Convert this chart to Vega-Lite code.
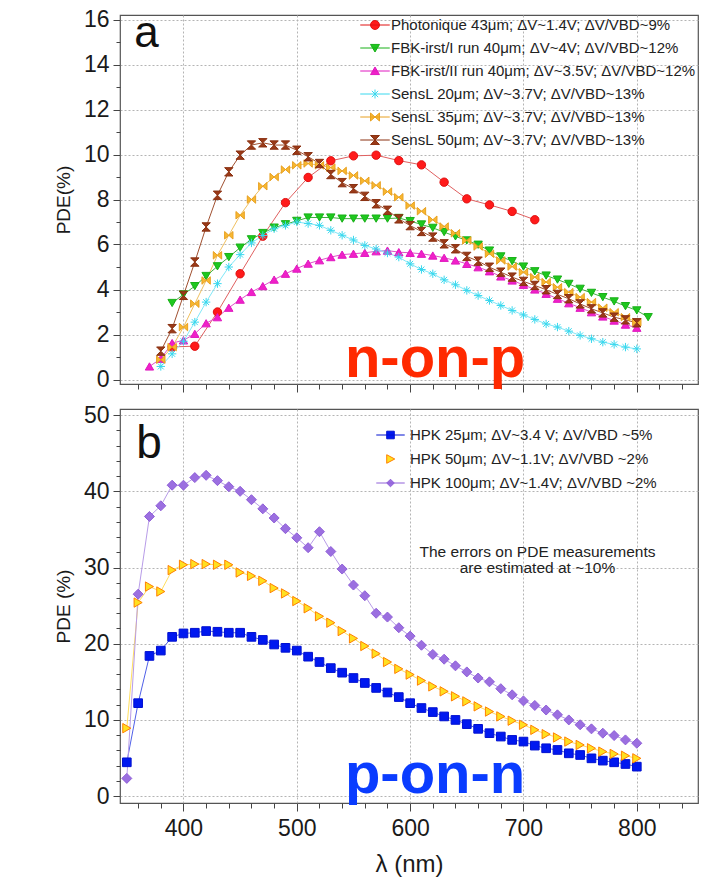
{
"$schema": "https://vega.github.io/schema/vega-lite/v6.json",
"background": "white",
"padding": {"left": 53, "top": 7, "right": 0, "bottom": 0},
"spacing": 9,
"config": {
  "view": {"stroke": "#555", "strokeWidth": 1.2},
  "font": "Liberation Sans",
  "axis": {"labelFont": "Liberation Sans", "titleFont": "Liberation Sans", "labelFontSize": 23, "labelColor": "#1a1a1a", "titleFontWeight": "normal", "titleColor": "#1a1a1a", "domain": false, "tickColor": "#444", "gridColor": "#b4b4b4", "gridDash": [2, 2], "labelOverlap": false, "labelFlush": false},
  "legend": {"labelFont": "Liberation Sans", "labelFontSize": 15, "labelColor": "#222", "labelLimit": 500}
},
"datasets": {
"top": [
{"series":"P","nm":390,"pde":1.45},{"series":"P","nm":410,"pde":1.48},{"series":"P","nm":430,"pde":3.0},{"series":"P","nm":450,"pde":4.7},{"series":"P","nm":470,"pde":6.37},{"series":"P","nm":490,"pde":7.86},{"series":"P","nm":510,"pde":8.98},{"series":"P","nm":530,"pde":9.72},{"series":"P","nm":550,"pde":9.94},{"series":"P","nm":570,"pde":9.97},{"series":"P","nm":590,"pde":9.73},{"series":"P","nm":610,"pde":9.54},{"series":"P","nm":630,"pde":8.77},{"series":"P","nm":650,"pde":8.03},{"series":"P","nm":670,"pde":7.76},{"series":"P","nm":690,"pde":7.47},{"series":"P","nm":710,"pde":7.1},
{"series":"G","nm":390,"pde":3.4},{"series":"G","nm":400,"pde":3.78},{"series":"G","nm":410,"pde":4.15},{"series":"G","nm":420,"pde":4.6},{"series":"G","nm":430,"pde":5.03},{"series":"G","nm":440,"pde":5.44},{"series":"G","nm":450,"pde":5.86},{"series":"G","nm":460,"pde":6.23},{"series":"G","nm":470,"pde":6.51},{"series":"G","nm":480,"pde":6.75},{"series":"G","nm":490,"pde":6.9},{"series":"G","nm":500,"pde":7.05},{"series":"G","nm":510,"pde":7.2},{"series":"G","nm":520,"pde":7.2},{"series":"G","nm":530,"pde":7.2},{"series":"G","nm":540,"pde":7.15},{"series":"G","nm":550,"pde":7.15},{"series":"G","nm":560,"pde":7.15},{"series":"G","nm":570,"pde":7.15},{"series":"G","nm":580,"pde":7.15},{"series":"G","nm":590,"pde":7.18},{"series":"G","nm":600,"pde":7.04},{"series":"G","nm":610,"pde":6.89},{"series":"G","nm":620,"pde":6.74},{"series":"G","nm":630,"pde":6.55},{"series":"G","nm":640,"pde":6.36},{"series":"G","nm":650,"pde":6.18},{"series":"G","nm":660,"pde":5.99},{"series":"G","nm":670,"pde":5.73},{"series":"G","nm":680,"pde":5.47},{"series":"G","nm":690,"pde":5.26},{"series":"G","nm":700,"pde":5.02},{"series":"G","nm":710,"pde":4.81},{"series":"G","nm":720,"pde":4.62},{"series":"G","nm":730,"pde":4.44},{"series":"G","nm":740,"pde":4.25},{"series":"G","nm":750,"pde":4.03},{"series":"G","nm":760,"pde":3.85},{"series":"G","nm":770,"pde":3.66},{"series":"G","nm":780,"pde":3.47},{"series":"G","nm":790,"pde":3.26},{"series":"G","nm":800,"pde":3.07},{"series":"G","nm":810,"pde":2.77},
{"series":"M","nm":370,"pde":0.58},{"series":"M","nm":380,"pde":0.92},{"series":"M","nm":390,"pde":1.62},{"series":"M","nm":400,"pde":1.74},{"series":"M","nm":410,"pde":2.03},{"series":"M","nm":420,"pde":2.5},{"series":"M","nm":430,"pde":2.77},{"series":"M","nm":440,"pde":3.19},{"series":"M","nm":450,"pde":3.55},{"series":"M","nm":460,"pde":3.89},{"series":"M","nm":470,"pde":4.15},{"series":"M","nm":480,"pde":4.44},{"series":"M","nm":490,"pde":4.7},{"series":"M","nm":500,"pde":4.93},{"series":"M","nm":510,"pde":5.15},{"series":"M","nm":520,"pde":5.3},{"series":"M","nm":530,"pde":5.44},{"series":"M","nm":540,"pde":5.55},{"series":"M","nm":550,"pde":5.59},{"series":"M","nm":560,"pde":5.63},{"series":"M","nm":570,"pde":5.7},{"series":"M","nm":580,"pde":5.73},{"series":"M","nm":590,"pde":5.66},{"series":"M","nm":600,"pde":5.63},{"series":"M","nm":610,"pde":5.59},{"series":"M","nm":620,"pde":5.51},{"series":"M","nm":630,"pde":5.41},{"series":"M","nm":640,"pde":5.29},{"series":"M","nm":650,"pde":5.14},{"series":"M","nm":660,"pde":4.99},{"series":"M","nm":670,"pde":4.81},{"series":"M","nm":680,"pde":4.58},{"series":"M","nm":690,"pde":4.4},{"series":"M","nm":700,"pde":4.21},{"series":"M","nm":710,"pde":4.0},{"series":"M","nm":720,"pde":3.81},{"series":"M","nm":730,"pde":3.59},{"series":"M","nm":740,"pde":3.39},{"series":"M","nm":750,"pde":3.19},{"series":"M","nm":760,"pde":2.99},{"series":"M","nm":770,"pde":2.8},{"series":"M","nm":780,"pde":2.62},{"series":"M","nm":790,"pde":2.44},{"series":"M","nm":800,"pde":2.3},
{"series":"C","nm":380,"pde":0.58},{"series":"C","nm":390,"pde":1.14},{"series":"C","nm":400,"pde":1.7},{"series":"C","nm":410,"pde":2.55},{"series":"C","nm":420,"pde":3.44},{"series":"C","nm":430,"pde":4.26},{"series":"C","nm":440,"pde":5.0},{"series":"C","nm":450,"pde":5.55},{"series":"C","nm":460,"pde":6.07},{"series":"C","nm":470,"pde":6.4},{"series":"C","nm":480,"pde":6.7},{"series":"C","nm":490,"pde":6.85},{"series":"C","nm":500,"pde":7.0},{"series":"C","nm":510,"pde":6.93},{"series":"C","nm":520,"pde":6.85},{"series":"C","nm":530,"pde":6.63},{"series":"C","nm":540,"pde":6.41},{"series":"C","nm":550,"pde":6.2},{"series":"C","nm":560,"pde":5.96},{"series":"C","nm":570,"pde":5.8},{"series":"C","nm":580,"pde":5.62},{"series":"C","nm":590,"pde":5.44},{"series":"C","nm":600,"pde":5.14},{"series":"C","nm":610,"pde":4.89},{"series":"C","nm":620,"pde":4.7},{"series":"C","nm":630,"pde":4.43},{"series":"C","nm":640,"pde":4.21},{"series":"C","nm":650,"pde":3.96},{"series":"C","nm":660,"pde":3.73},{"series":"C","nm":670,"pde":3.51},{"series":"C","nm":680,"pde":3.29},{"series":"C","nm":690,"pde":3.07},{"series":"C","nm":700,"pde":2.87},{"series":"C","nm":710,"pde":2.67},{"series":"C","nm":720,"pde":2.47},{"series":"C","nm":730,"pde":2.33},{"series":"C","nm":740,"pde":2.15},{"series":"C","nm":750,"pde":1.96},{"series":"C","nm":760,"pde":1.81},{"series":"C","nm":770,"pde":1.66},{"series":"C","nm":780,"pde":1.56},{"series":"C","nm":790,"pde":1.44},{"series":"C","nm":800,"pde":1.36},
{"series":"O","nm":380,"pde":0.88},{"series":"O","nm":390,"pde":1.44},{"series":"O","nm":400,"pde":2.33},{"series":"O","nm":410,"pde":3.37},{"series":"O","nm":420,"pde":4.4},{"series":"O","nm":430,"pde":5.52},{"series":"O","nm":440,"pde":6.41},{"series":"O","nm":450,"pde":7.3},{"series":"O","nm":460,"pde":8.0},{"series":"O","nm":470,"pde":8.59},{"series":"O","nm":480,"pde":9.0},{"series":"O","nm":490,"pde":9.33},{"series":"O","nm":500,"pde":9.52},{"series":"O","nm":510,"pde":9.6},{"series":"O","nm":520,"pde":9.52},{"series":"O","nm":530,"pde":9.42},{"series":"O","nm":540,"pde":9.27},{"series":"O","nm":550,"pde":9.07},{"series":"O","nm":560,"pde":8.83},{"series":"O","nm":570,"pde":8.63},{"series":"O","nm":580,"pde":8.35},{"series":"O","nm":590,"pde":8.1},{"series":"O","nm":600,"pde":7.73},{"series":"O","nm":610,"pde":7.48},{"series":"O","nm":620,"pde":7.1},{"series":"O","nm":630,"pde":6.8},{"series":"O","nm":640,"pde":6.5},{"series":"O","nm":650,"pde":6.18},{"series":"O","nm":660,"pde":5.91},{"series":"O","nm":670,"pde":5.59},{"series":"O","nm":680,"pde":5.29},{"series":"O","nm":690,"pde":5.02},{"series":"O","nm":700,"pde":4.77},{"series":"O","nm":710,"pde":4.55},{"series":"O","nm":720,"pde":4.33},{"series":"O","nm":730,"pde":4.1},{"series":"O","nm":740,"pde":3.88},{"series":"O","nm":750,"pde":3.66},{"series":"O","nm":760,"pde":3.44},{"series":"O","nm":770,"pde":3.19},{"series":"O","nm":780,"pde":2.99},{"series":"O","nm":790,"pde":2.77},{"series":"O","nm":800,"pde":2.55},
{"series":"B","nm":380,"pde":1.26},{"series":"B","nm":390,"pde":2.26},{"series":"B","nm":400,"pde":3.74},{"series":"B","nm":410,"pde":5.22},{"series":"B","nm":420,"pde":6.78},{"series":"B","nm":430,"pde":8.19},{"series":"B","nm":440,"pde":9.23},{"series":"B","nm":450,"pde":9.97},{"series":"B","nm":460,"pde":10.42},{"series":"B","nm":470,"pde":10.52},{"series":"B","nm":480,"pde":10.42},{"series":"B","nm":490,"pde":10.42},{"series":"B","nm":500,"pde":10.19},{"series":"B","nm":510,"pde":9.9},{"series":"B","nm":520,"pde":9.6},{"series":"B","nm":530,"pde":9.11},{"series":"B","nm":540,"pde":8.75},{"series":"B","nm":550,"pde":8.48},{"series":"B","nm":560,"pde":8.14},{"series":"B","nm":570,"pde":7.81},{"series":"B","nm":580,"pde":7.52},{"series":"B","nm":590,"pde":7.14},{"series":"B","nm":600,"pde":6.84},{"series":"B","nm":610,"pde":6.58},{"series":"B","nm":620,"pde":6.33},{"series":"B","nm":630,"pde":6.03},{"series":"B","nm":640,"pde":5.81},{"series":"B","nm":650,"pde":5.47},{"series":"B","nm":660,"pde":5.26},{"series":"B","nm":670,"pde":4.99},{"series":"B","nm":680,"pde":4.77},{"series":"B","nm":690,"pde":4.55},{"series":"B","nm":700,"pde":4.36},{"series":"B","nm":710,"pde":4.18},{"series":"B","nm":720,"pde":3.99},{"series":"B","nm":730,"pde":3.78},{"series":"B","nm":740,"pde":3.59},{"series":"B","nm":750,"pde":3.36},{"series":"B","nm":760,"pde":3.14},{"series":"B","nm":770,"pde":2.96},{"series":"B","nm":780,"pde":2.77},{"series":"B","nm":790,"pde":2.65},{"series":"B","nm":800,"pde":2.52}
],
"bottom": [
{"series":"H25","nm":350,"pde":4.44},{"series":"H25","nm":360,"pde":12.2},{"series":"H25","nm":370,"pde":18.4},{"series":"H25","nm":380,"pde":19.1},{"series":"H25","nm":390,"pde":20.9},{"series":"H25","nm":400,"pde":21.35},{"series":"H25","nm":410,"pde":21.44},{"series":"H25","nm":420,"pde":21.66},{"series":"H25","nm":430,"pde":21.57},{"series":"H25","nm":440,"pde":21.44},{"series":"H25","nm":450,"pde":21.44},{"series":"H25","nm":460,"pde":20.9},{"series":"H25","nm":470,"pde":20.5},{"series":"H25","nm":480,"pde":19.9},{"series":"H25","nm":490,"pde":19.46},{"series":"H25","nm":500,"pde":19.1},{"series":"H25","nm":510,"pde":18.3},{"series":"H25","nm":520,"pde":17.6},{"series":"H25","nm":530,"pde":16.8},{"series":"H25","nm":540,"pde":16.2},{"series":"H25","nm":550,"pde":15.5},{"series":"H25","nm":560,"pde":14.85},{"series":"H25","nm":570,"pde":14.2},{"series":"H25","nm":580,"pde":13.6},{"series":"H25","nm":590,"pde":13.0},{"series":"H25","nm":600,"pde":12.2},{"series":"H25","nm":610,"pde":11.56},{"series":"H25","nm":620,"pde":11.03},{"series":"H25","nm":630,"pde":10.46},{"series":"H25","nm":640,"pde":10.0},{"series":"H25","nm":650,"pde":9.45},{"series":"H25","nm":660,"pde":8.83},{"series":"H25","nm":670,"pde":8.26},{"series":"H25","nm":680,"pde":7.82},{"series":"H25","nm":690,"pde":7.38},{"series":"H25","nm":700,"pde":7.16},{"series":"H25","nm":710,"pde":6.63},{"series":"H25","nm":720,"pde":6.28},{"series":"H25","nm":730,"pde":6.06},{"series":"H25","nm":740,"pde":5.62},{"series":"H25","nm":750,"pde":5.4},{"series":"H25","nm":760,"pde":4.96},{"series":"H25","nm":770,"pde":4.66},{"series":"H25","nm":780,"pde":4.44},{"series":"H25","nm":790,"pde":4.22},{"series":"H25","nm":800,"pde":3.87},
{"series":"H50","nm":350,"pde":8.92},{"series":"H50","nm":360,"pde":25.4},{"series":"H50","nm":370,"pde":27.5},{"series":"H50","nm":380,"pde":26.85},{"series":"H50","nm":390,"pde":29.66},{"series":"H50","nm":400,"pde":30.36},{"series":"H50","nm":410,"pde":30.45},{"series":"H50","nm":420,"pde":30.45},{"series":"H50","nm":430,"pde":30.36},{"series":"H50","nm":440,"pde":30.36},{"series":"H50","nm":450,"pde":29.35},{"series":"H50","nm":460,"pde":28.9},{"series":"H50","nm":470,"pde":28.25},{"series":"H50","nm":480,"pde":27.3},{"series":"H50","nm":490,"pde":26.6},{"series":"H50","nm":500,"pde":25.6},{"series":"H50","nm":510,"pde":24.65},{"series":"H50","nm":520,"pde":23.6},{"series":"H50","nm":530,"pde":22.76},{"series":"H50","nm":540,"pde":21.66},{"series":"H50","nm":550,"pde":20.7},{"series":"H50","nm":560,"pde":19.7},{"series":"H50","nm":570,"pde":18.7},{"series":"H50","nm":580,"pde":17.6},{"series":"H50","nm":590,"pde":16.7},{"series":"H50","nm":600,"pde":15.95},{"series":"H50","nm":610,"pde":15.16},{"series":"H50","nm":620,"pde":14.4},{"series":"H50","nm":630,"pde":13.75},{"series":"H50","nm":640,"pde":13.1},{"series":"H50","nm":650,"pde":12.43},{"series":"H50","nm":660,"pde":11.78},{"series":"H50","nm":670,"pde":11.1},{"series":"H50","nm":680,"pde":10.46},{"series":"H50","nm":690,"pde":9.9},{"series":"H50","nm":700,"pde":9.36},{"series":"H50","nm":710,"pde":8.7},{"series":"H50","nm":720,"pde":8.13},{"series":"H50","nm":730,"pde":7.7},{"series":"H50","nm":740,"pde":7.16},{"series":"H50","nm":750,"pde":6.72},{"series":"H50","nm":760,"pde":6.28},{"series":"H50","nm":770,"pde":5.84},{"series":"H50","nm":780,"pde":5.54},{"series":"H50","nm":790,"pde":5.3},{"series":"H50","nm":800,"pde":4.96},
{"series":"H100","nm":350,"pde":2.33},{"series":"H100","nm":360,"pde":26.5},{"series":"H100","nm":370,"pde":36.7},{"series":"H100","nm":380,"pde":38.1},{"series":"H100","nm":390,"pde":40.8},{"series":"H100","nm":400,"pde":40.8},{"series":"H100","nm":410,"pde":41.8},{"series":"H100","nm":420,"pde":42.1},{"series":"H100","nm":430,"pde":41.4},{"series":"H100","nm":440,"pde":40.6},{"series":"H100","nm":450,"pde":40.0},{"series":"H100","nm":460,"pde":38.9},{"series":"H100","nm":470,"pde":37.7},{"series":"H100","nm":480,"pde":36.5},{"series":"H100","nm":490,"pde":35.1},{"series":"H100","nm":500,"pde":33.9},{"series":"H100","nm":510,"pde":32.6},{"series":"H100","nm":520,"pde":34.7},{"series":"H100","nm":530,"pde":32.1},{"series":"H100","nm":540,"pde":29.8},{"series":"H100","nm":550,"pde":27.7},{"series":"H100","nm":560,"pde":26.3},{"series":"H100","nm":570,"pde":24.0},{"series":"H100","nm":580,"pde":23.5},{"series":"H100","nm":590,"pde":22.1},{"series":"H100","nm":600,"pde":21.0},{"series":"H100","nm":610,"pde":19.8},{"series":"H100","nm":620,"pde":18.6},{"series":"H100","nm":630,"pde":17.97},{"series":"H100","nm":640,"pde":17.1},{"series":"H100","nm":650,"pde":16.3},{"series":"H100","nm":660,"pde":15.5},{"series":"H100","nm":670,"pde":15.0},{"series":"H100","nm":680,"pde":14.1},{"series":"H100","nm":690,"pde":13.3},{"series":"H100","nm":700,"pde":12.5},{"series":"H100","nm":710,"pde":11.9},{"series":"H100","nm":720,"pde":11.3},{"series":"H100","nm":730,"pde":10.67},{"series":"H100","nm":740,"pde":10.0},{"series":"H100","nm":750,"pde":9.36},{"series":"H100","nm":760,"pde":8.83},{"series":"H100","nm":770,"pde":8.26},{"series":"H100","nm":780,"pde":7.95},{"series":"H100","nm":790,"pde":7.38},{"series":"H100","nm":800,"pde":6.94}
]
},
"vconcat": [
{
  "width": 578, "height": 369,
  "data": {"name": "top"},
  "resolve": {"scale": {"color": "independent", "fill": "independent", "stroke": "independent", "shape": "independent"}, "axis": {"x": "independent", "y": "independent"}},
  "layer": [
    {
      "mark": {"type": "line", "strokeWidth": 1},
      "encoding": {
        "x": {"field": "nm", "type": "quantitative", "scale": {"domain": [344, 854], "nice": false, "zero": false},
          "axis": {"orient": "bottom", "title": null, "labels": false, "values": [400, 500, 600, 700, 800], "tickSize": 8, "grid": true}},
        "y": {"field": "pde", "type": "quantitative", "scale": {"domain": [-0.2, 16.2], "nice": false, "zero": false},
          "axis": {"orient": "left", "title": "PDE(%)", "titleFontSize": 19, "titlePadding": 10, "labelPadding": 4, "tickSize": 7,
            "values": [0,2,4,6,8,10,12,14,16], "grid": true}},
        "color": {"field": "series", "type": "nominal", "legend": null,
          "scale": {"domain": ["P","G","M","C","O","B"], "range": ["#e06060","#40b040","#e050c8","#80e8f8","#f0c060","#a05030"]}},
        "order": {"field": "nm"}
      }
    },
    {
      "mark": {"type": "point", "filled": true, "size": 70, "strokeWidth": 1, "opacity": 1},
      "encoding": {
        "x": {"field": "nm", "type": "quantitative",
          "axis": {"orient": "bottom", "title": null, "labels": false, "grid": false, "tickSize": 5, "values": [360,380,420,440,460,480,520,540,560,580,620,640,660,680,720,740,760,780,820,840]}},
        "y": {"field": "pde", "type": "quantitative",
          "axis": {"orient": "left", "title": null, "labels": false, "grid": false, "tickSize": 4, "values": [1,3,5,7,9,11,13,15]}},
        "shape": {"field": "series", "type": "nominal", "legend": null,
          "scale": {"domain": ["P","G","M","C","O","B"], "range": ["circle","triangle-down","triangle-up","M-1,0H1M0,-1V1M-0.7,-0.7L0.7,0.7M-0.7,0.7L0.7,-0.7","M-1,-0.9L0,0L-1,0.9ZM1,-0.9L0,0L1,0.9Z","M-1,-1H1L0,0ZM-1,1H1L0,0Z"]}},
        "fill": {"field": "series", "type": "nominal", "legend": null,
          "scale": {"domain": ["P","G","M","C","O","B"], "range": ["#ff1a1a","#1ec81e","#f020c8","#40e0f0","#f8b830","#9a3a18"]}},
        "stroke": {"field": "series", "type": "nominal", "legend": null,
          "scale": {"domain": ["P","G","M","C","O","B"], "range": ["#e01010","#18b018","#e018c0","#38d8ee","#e8a020","#8a3010"]}}
      }
    },
    {
      "transform": [{"filter": "datum.nm < 0"}],
      "mark": {"type": "point", "filled": true, "size": 80, "strokeWidth": 1, "opacity": 1},
      "encoding": {
        "x": {"field": "nm", "type": "quantitative", "axis": null},
        "y": {"field": "pde", "type": "quantitative", "axis": null},
        "shape": {"field": "series", "type": "nominal",
          "scale": {"domain": ["P","G","M","C","O","B"], "range": ["M-3.3,0H3.3M1,0A1,1 0 1,1 -1,0A1,1 0 1,1 1,0Z","M-3.3,0H3.3M-1,-0.8H1L0,0.9Z","M-3.3,0H3.3M-1,0.8H1L0,-0.9Z","M-3.3,0H3.3M0,-1V1M-0.7,-0.7L0.7,0.7M-0.7,0.7L0.7,-0.7","M-3.3,0H3.3M-1,-0.9L0,0L-1,0.9ZM1,-0.9L0,0L1,0.9Z","M-3.3,0H3.3M-1,-1H1L0,0ZM-1,1H1L0,0Z"]},
          "legend": {"title": null, "orient": "none", "legendX": 247.5, "legendY": 2.5, "padding": 0, "labelOffset": 8.5, "rowPadding": 7, "symbolSize": 80, "symbolStrokeWidth": 1,
            "labelExpr": "{'P':'Photonique 43μm; ΔV~1.4V; ΔV/VBD~9%','G':'FBK-irst/I run 40μm; ΔV~4V; ΔV/VBD~12%','M':'FBK-irst/II run 40μm; ΔV~3.5V; ΔV/VBD~12%','C':'SensL 20μm; ΔV~3.7V; ΔV/VBD~13%','O':'SensL 35μm; ΔV~3.7V; ΔV/VBD~13%','B':'SensL 50μm; ΔV~3.7V; ΔV/VBD~13%'}[datum.label]"}},
        "fill": {"field": "series", "type": "nominal",
          "scale": {"domain": ["P","G","M","C","O","B"], "range": ["#ff1a1a","#1ec81e","#f020c8","#40e0f0","#f8b830","#9a3a18"]}},
        "stroke": {"field": "series", "type": "nominal",
          "scale": {"domain": ["P","G","M","C","O","B"], "range": ["#e01010","#18b018","#e018c0","#38d8ee","#e8a020","#8a3010"]}}
      }
    },
    {
      "data": {"values": [{"label": "a"}]},
      "mark": {"type": "text", "fontSize": 44, "font": "Liberation Sans", "align": "center", "baseline": "alphabetic", "color": "#111"},
      "encoding": {"text": {"field": "label"}, "x": {"datum": 367.4, "type": "quantitative", "axis": null}, "y": {"datum": 14.8, "type": "quantitative", "axis": null}}
    },
    {
      "data": {"values": [{"label": "n-on-p"}]},
      "mark": {"type": "text", "fontSize": 58, "font": "Liberation Sans", "fontWeight": "bold", "align": "center", "baseline": "alphabetic", "color": "#ff2a00"},
      "encoding": {"text": {"field": "label"}, "x": {"datum": 622, "type": "quantitative", "axis": null}, "y": {"datum": 0.12, "type": "quantitative", "axis": null}}
    }
  ]
},
{
  "width": 578, "height": 394,
  "data": {"name": "bottom"},
  "resolve": {"scale": {"color": "independent", "fill": "independent", "stroke": "independent", "shape": "independent", "size": "independent"}, "axis": {"x": "independent", "y": "independent"}},
  "layer": [
    {
      "mark": {"type": "line", "strokeWidth": 1},
      "encoding": {
        "x": {"field": "nm", "type": "quantitative", "scale": {"domain": [344, 854], "nice": false, "zero": false},
          "axis": {"orient": "bottom", "title": "λ (nm)", "titleFontSize": 24, "titlePadding": 12, "labelPadding": 6, "tickSize": 8,
            "values": [400, 500, 600, 700, 800], "grid": true}},
        "y": {"field": "pde", "type": "quantitative", "scale": {"domain": [-0.9, 50.8], "nice": false, "zero": false},
          "axis": {"orient": "left", "title": "PDE (%)", "titleFontSize": 19, "titlePadding": 10, "labelPadding": 4, "tickSize": 7,
            "values": [0, 10, 20, 30, 40, 50], "grid": true}},
        "color": {"field": "series", "type": "nominal", "legend": null,
          "scale": {"domain": ["H25","H50","H100"], "range": ["#5060e8","#ffe060","#b89ce8"]}},
        "order": {"field": "nm"}
      }
    },
    {
      "mark": {"type": "point", "filled": true, "strokeWidth": 1, "opacity": 1},
      "encoding": {
        "x": {"field": "nm", "type": "quantitative",
          "axis": {"orient": "bottom", "title": null, "labels": false, "grid": false, "tickSize": 5, "values": [360,380,420,440,460,480,520,540,560,580,620,640,660,680,720,740,760,780,820,840]}},
        "y": {"field": "pde", "type": "quantitative",
          "axis": {"orient": "left", "title": null, "labels": false, "grid": false, "tickSize": 4, "values": [2,4,6,8,12,14,16,18,22,24,26,28,32,34,36,38,42,44,46,48]}},
        "shape": {"field": "series", "type": "nominal", "legend": null,
          "scale": {"domain": ["H25","H50","H100"], "range": ["square","triangle-right","diamond"]}},
        "size": {"field": "series", "type": "nominal", "legend": null,
          "scale": {"domain": ["H25","H50","H100"], "range": [75, 100, 95]}},
        "fill": {"field": "series", "type": "nominal", "legend": null,
          "scale": {"domain": ["H25","H50","H100"], "range": ["#0018f0","#ffe020","#9b6fe0"]}},
        "stroke": {"field": "series", "type": "nominal", "legend": null,
          "scale": {"domain": ["H25","H50","H100"], "range": ["#0010d0","#ff8000","#9060d8"]}}
      }
    },
    {
      "transform": [{"filter": "datum.nm < 0"}],
      "mark": {"type": "point", "filled": true, "size": 90, "strokeWidth": 1, "opacity": 1},
      "encoding": {
        "x": {"field": "nm", "type": "quantitative", "axis": null},
        "y": {"field": "pde", "type": "quantitative", "axis": null},
        "shape": {"field": "series", "type": "nominal",
          "scale": {"domain": ["H25","H50","H100"], "range": ["M-3,0H3M-0.8,-0.8H0.8V0.8H-0.8Z","M-0.8,-0.9L0.9,0L-0.8,0.9Z","M-3,0H3M0,-0.8L0.8,0L0,0.8L-0.8,0Z"]},
          "legend": {"title": null, "orient": "none", "legendX": 263, "legendY": 18.5, "padding": 0, "labelOffset": 12, "rowPadding": 8, "symbolSize": 90, "symbolStrokeWidth": 1,
            "labelExpr": "{'H25':'HPK 25μm; ΔV~3.4 V; ΔV/VBD ~5%','H50':'HPK 50μm; ΔV~1.1V; ΔV/VBD ~2%','H100':'HPK 100μm; ΔV~1.4V; ΔV/VBD ~2%'}[datum.label]"}},
        "fill": {"field": "series", "type": "nominal",
          "scale": {"domain": ["H25","H50","H100"], "range": ["#0018f0","#ffe020","#9b6fe0"]}},
        "stroke": {"field": "series", "type": "nominal",
          "scale": {"domain": ["H25","H50","H100"], "range": ["#0010d0","#ff8000","#9060d8"]}}
      }
    },
    {
      "data": {"values": [{"label": "b"}]},
      "mark": {"type": "text", "fontSize": 46, "font": "Liberation Sans", "align": "center", "baseline": "alphabetic", "color": "#111"},
      "encoding": {"text": {"field": "label"}, "x": {"datum": 369.6, "type": "quantitative", "axis": null}, "y": {"datum": 44.4, "type": "quantitative", "axis": null}}
    },
    {
      "data": {"values": [{"label": "p-on-n"}]},
      "mark": {"type": "text", "fontSize": 58, "font": "Liberation Sans", "fontWeight": "bold", "align": "center", "baseline": "alphabetic", "color": "#0a3cff"},
      "encoding": {"text": {"field": "label"}, "x": {"datum": 622, "type": "quantitative", "axis": null}, "y": {"datum": 0.45, "type": "quantitative", "axis": null}}
    },
    {
      "data": {"values": [{"note": "errors"}]},
      "mark": {"type": "text", "fontSize": 15.5, "font": "Liberation Sans", "align": "center", "baseline": "middle", "color": "#222", "lineHeight": 16},
      "encoding": {"text": {"value": ["The errors on PDE measurements", "are estimated at ~10%"]}, "x": {"datum": 712.4, "type": "quantitative", "axis": null}, "y": {"datum": 32.0, "type": "quantitative", "axis": null}}
    }
  ]
}
]
}
